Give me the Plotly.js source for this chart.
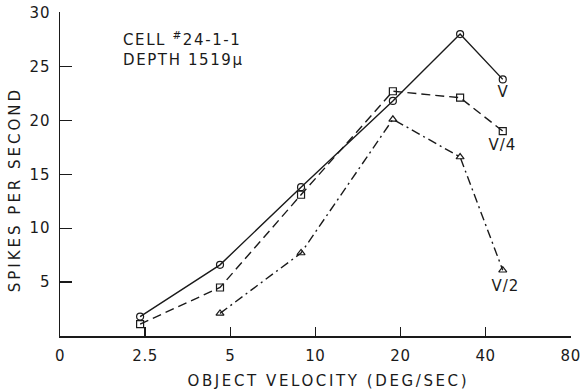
<!DOCTYPE html>
<html>
<head>
<meta charset="utf-8">
<script src="https://cdn.plot.ly/plotly-3.0.1.min.js"></script>
<style>
html,body{margin:0;padding:0;background:#fff;}
#chart{width:582px;height:392px;}
#chart .ytick text{letter-spacing:1px;}
#chart .xtick text{letter-spacing:0.6px;}
#chart g.annotation[data-index="0"] text{letter-spacing:2.6px;}
#chart g.annotation[data-index="1"] text{letter-spacing:3px;}
#chart g.annotation[data-index="2"] text{letter-spacing:1.6px;}
#chart g.annotation[data-index="3"] text,
#chart g.annotation[data-index="4"] text,
#chart g.annotation[data-index="5"] text{letter-spacing:1px;}
</style>
</head>
<body>
<div id="chart"></div>
<script>
// Data
const velocity = [2.4, 4.6, 8.9, 18.8, 32.5, 46];        // deg/sec
const velocityV2 = [4.6, 8.9, 18.8, 32.5, 46];
const spikesV = [1.8, 6.6, 13.8, 21.8, 28.0, 23.8];       // circles, solid
const spikesV4 = [1.1, 4.5, 13.1, 22.7, 22.1, 19.0];      // squares, dashed
const spikesV2 = [2.1, 7.7, 20.1, 16.6, 6.1];             // triangles, dash-dot
const xTickVals = [1.25, 2.5, 5, 10, 20, 40, 80];
const xTickText = ["0", "2.5", "5", "10", "20", "40", "80"];
const yTickVals = [5, 10, 15, 20, 25, 30];
const seriesNames = ["V", "V/4", "V/2"];

const ink = "#1a1a1a";
const fam = "DejaVu Sans, sans-serif";
const font = {family: fam, size: 15, color: ink};

const mk = (sym) => ({symbol: sym, size: 7, color: ink, line: {color: ink, width: 1.2}});

const traces = [
  {x: velocity, y: spikesV, name: seriesNames[0], mode: "lines+markers",
   line: {color: ink, width: 1.4, dash: "solid"}, marker: mk("circle-open")},
  {x: velocity, y: spikesV4, name: seriesNames[1], mode: "lines+markers",
   line: {color: ink, width: 1.4, dash: "9px,5px"}, marker: mk("square-open")},
  {x: velocityV2, y: spikesV2, name: seriesNames[2], mode: "lines+markers",
   line: {color: ink, width: 1.4, dash: "9px,4px,2px,4px"}, marker: mk("triangle-up-open")}
];

const last = (a) => a[a.length - 1];

const layout = {
  width: 582, height: 392,
  margin: {l: 60, r: 11, t: 12, b: 56},
  paper_bgcolor: "#fff", plot_bgcolor: "#fff",
  showlegend: false,
  font: font,
  xaxis: {
    type: "log",
    range: [Math.log10(xTickVals[0]), Math.log10(last(xTickVals)) + 0.001],
    tickmode: "array", tickvals: xTickVals, ticktext: xTickText,
    ticks: "inside", ticklen: 9, tickwidth: 1.3, tickcolor: ink,
    showline: true, linecolor: ink, linewidth: 1.5,
    showgrid: false, zeroline: false,
    tickfont: {family: fam, size: 15, color: ink},
    ticklabelstandoff: 5,
    ticklabeloverflow: "allow",
    fixedrange: true
  },
  yaxis: {
    range: [0, 30.05],
    tickmode: "array", tickvals: yTickVals,
    ticks: "inside", ticklen: 12, tickwidth: 1.3, tickcolor: ink,
    showline: true, linecolor: ink, linewidth: 1.5,
    showgrid: false, zeroline: false,
    tickfont: {family: fam, size: 15, color: ink},
    ticklabelstandoff: 5,
    fixedrange: true
  },
  annotations: [
    {xref: "paper", yref: "paper", x: 0.525, y: -0.138, yanchor: "middle",
     text: "OBJECT VELOCITY (DEG/SEC)", showarrow: false,
     font: {family: fam, size: 15, color: ink}},
    {xref: "paper", yref: "paper", x: -0.087, y: 0.45, xanchor: "center", yanchor: "middle",
     text: "SPIKES PER SECOND", textangle: -90, showarrow: false,
     font: {family: fam, size: 15, color: ink}},
    {xref: "paper", yref: "paper", x: 0.12, y: 0.887, xanchor: "left", yanchor: "middle", align: "left",
     text: "CELL <sup>#</sup>24-1-1<br>DEPTH 1519μ", showarrow: false,
     font: {family: fam, size: 15, color: ink}},
    {x: Math.log10(last(velocity)), y: last(spikesV), text: seriesNames[0], showarrow: false, yshift: -13, xshift: 1,
     font: {family: fam, size: 15, color: ink}},
    {x: Math.log10(last(velocity)), y: last(spikesV4), text: seriesNames[1], showarrow: false, yshift: -14,
     font: {family: fam, size: 15, color: ink}},
    {x: Math.log10(last(velocityV2)), y: last(spikesV2), text: seriesNames[2], showarrow: false, yshift: -16, xshift: 3,
     font: {family: fam, size: 15, color: ink}}
  ]
};

Plotly.newPlot("chart", traces, layout, {displayModeBar: false, staticPlot: true});
</script>
</body>
</html>
